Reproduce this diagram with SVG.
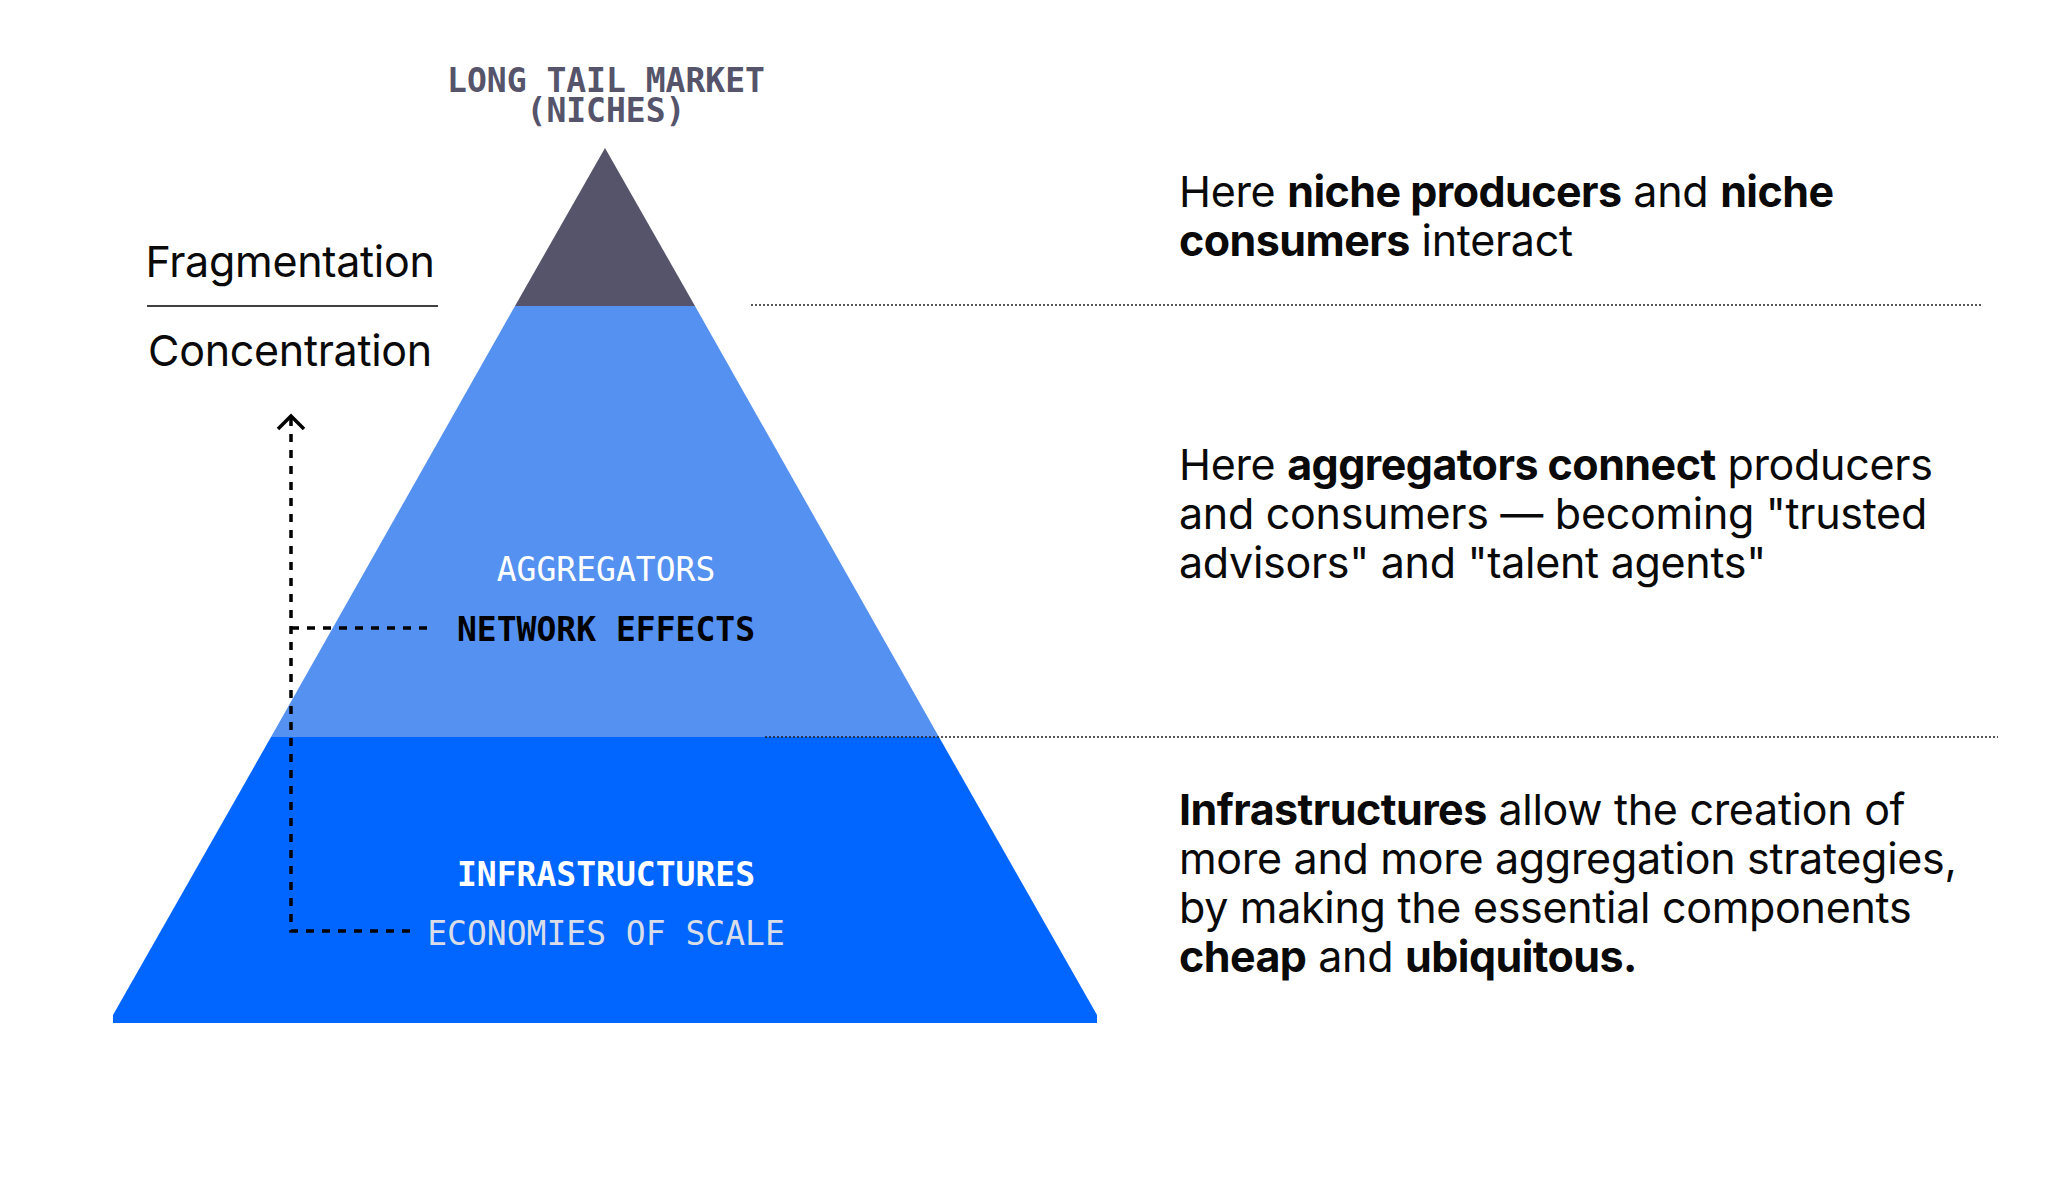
<svg xmlns="http://www.w3.org/2000/svg" width="2048" height="1194" viewBox="0 0 2048 1194">
<style>
.mono{font-family:"DejaVu Sans Mono","Liberation Mono",monospace;font-size:33px;text-anchor:middle}
.body{font-family:Inter,"Liberation Sans",sans-serif;font-size:43px;fill:#0a0a0a;letter-spacing:-0.3px}
.b{font-weight:700;letter-spacing:-0.55px}
.dotted{stroke:#222;stroke-width:1.5;stroke-dasharray:2 2;fill:none}
.dash{stroke:#000;stroke-width:3.5;stroke-dasharray:8 8;fill:none}
</style>
<rect width="2048" height="1194" fill="#ffffff"/>
<g id="pyramid">
<g id="tier-top">
<polygon points="605,148 695,306 515,306" fill="#55546a"/>
</g>
<g id="tier-aggregators">
<polygon points="515,306 695,306 939,737 271,737" fill="#5591f0"/>
</g>
<g id="tier-infrastructures">
<polygon points="271,737 939,737 1097,1015 1097,1023 113,1023 113,1015" fill="#0066ff"/>
</g>
</g>
<g id="dividers">
<line class="dotted" x1="751" y1="305" x2="1983" y2="305"/>
<line class="dotted" x1="765" y1="737" x2="1998" y2="737"/>
</g>
<g id="connectors">
<path class="dash" d="M291,418 V931 H411"/>
<path class="dash" d="M291,628 H427"/>
<path d="M278,429 L291,416 L304,429" fill="none" stroke="#000" stroke-width="3.5"/>
</g>
<g id="label-longtail">
<text class="mono" x="606" y="92" fill="#55546a" font-weight="bold">LONG TAIL MARKET</text>
<text class="mono" x="606" y="122" fill="#55546a" font-weight="bold">(NICHES)</text>
</g>
<g id="label-aggregators">
<text class="mono" x="606" y="581" fill="#ffffff">AGGREGATORS</text>
<text class="mono" x="606" y="641" fill="#000000" font-weight="bold">NETWORK EFFECTS</text>
</g>
<g id="label-infrastructures">
<text class="mono" x="606" y="886" fill="#ffffff" font-weight="bold">INFRASTRUCTURES</text>
<text class="mono" x="606" y="945" fill="#d9dde8">ECONOMIES OF SCALE</text>
</g>
<g id="axis">
<text class="body" x="290" y="277" text-anchor="middle">Fragmentation</text>
<line x1="147" y1="306" x2="438" y2="306" stroke="#000" stroke-width="1.5"/>
<text class="body" x="290" y="366" text-anchor="middle">Concentration</text>
</g>
<g id="text-top">
<text class="body" x="1179" y="207">Here <tspan class="b">niche producers</tspan> and <tspan class="b">niche</tspan></text>
<text class="body" x="1179" y="256"><tspan class="b">consumers</tspan> interact</text>
</g>
<g id="text-middle">
<text class="body" x="1179" y="480">Here <tspan class="b">aggregators connect</tspan> producers</text>
<text class="body" x="1179" y="529">and consumers — becoming "trusted</text>
<text class="body" x="1179" y="578">advisors" and "talent agents"</text>
</g>
<g id="text-bottom">
<text class="body" x="1179" y="825"><tspan class="b">Infrastructures</tspan> allow the creation of</text>
<text class="body" x="1179" y="874">more and more aggregation strategies,</text>
<text class="body" x="1179" y="923">by making the essential components</text>
<text class="body" x="1179" y="972"><tspan class="b">cheap</tspan> and <tspan class="b">ubiquitous.</tspan></text>
</g>
</svg>
